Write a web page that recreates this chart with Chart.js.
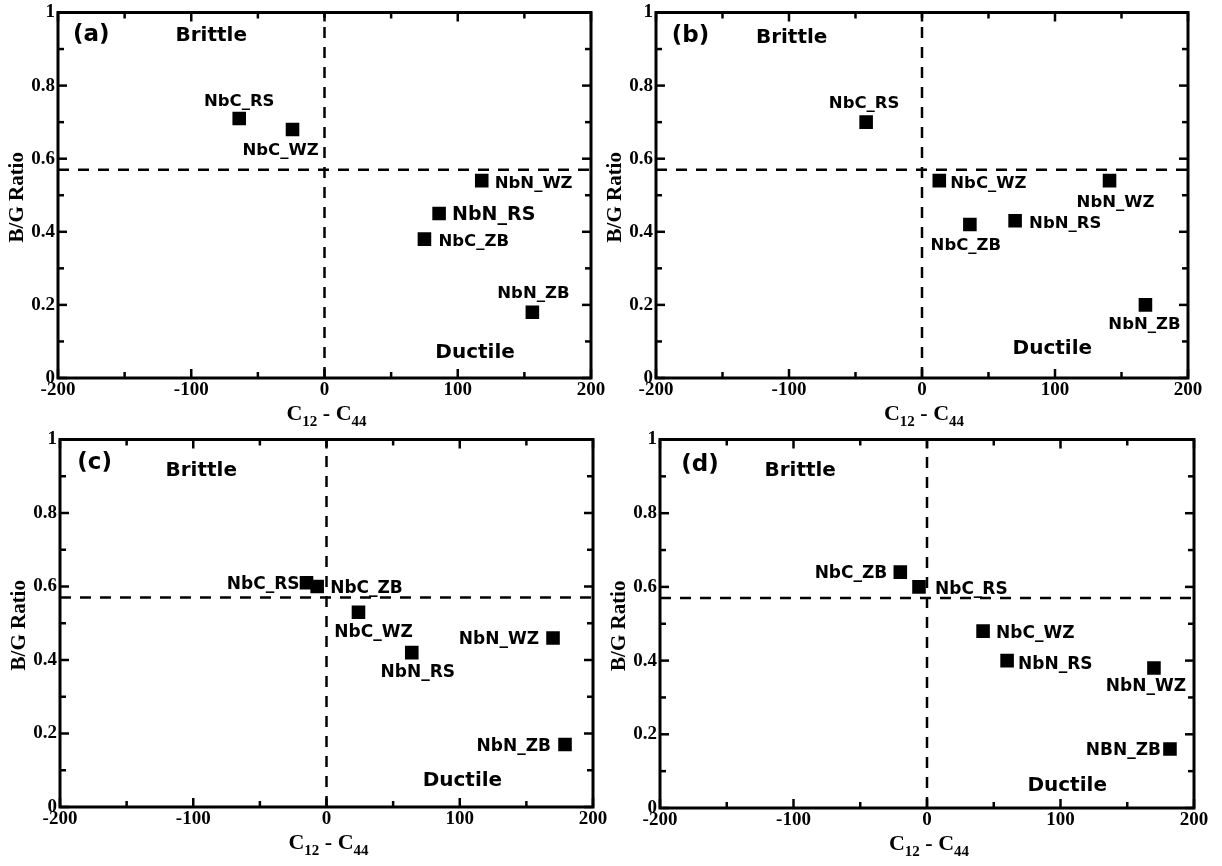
<!DOCTYPE html>
<html><head><meta charset="utf-8">
<script src="https://cdn.jsdelivr.net/npm/chart.js@4.4.0/dist/chart.umd.min.js"></script>
<style>
html,body{margin:0;padding:0;background:#fff;width:1222px;height:866px;overflow:hidden;position:relative}
canvas{position:absolute;display:block}
</style></head><body>
<canvas id="ca"></canvas><canvas id="cb"></canvas><canvas id="cc"></canvas><canvas id="cd"></canvas>
<script>
// ---------------- data ----------------
const xTicks = [-200, -100, 0, 100, 200];
const yTicks = [0, 0.2, 0.4, 0.6, 0.8, 1];
const xMinorStep = 50;
const yMinorStep = 0.1;
const xThreshold = 0;      // C12 - C44 = 0
const yThreshold = 0.57;   // B/G ratio critical value

const panelTags = ['(a)', '(b)', '(c)', '(d)'];

const labelsA = ['NbC_RS', 'NbC_WZ', 'NbN_WZ', 'NbN_RS', 'NbC_ZB', 'NbN_ZB'];
const xA = [-64, -24, 118, 86, 75, 156];
const yA = [0.71, 0.68, 0.54, 0.45, 0.38, 0.18];

const labelsB = ['NbC_RS', 'NbC_WZ', 'NbN_WZ', 'NbC_ZB', 'NbN_RS', 'NbN_ZB'];
const xB = [-42, 13, 141, 36, 70, 168];
const yB = [0.70, 0.54, 0.54, 0.42, 0.43, 0.20];

const labelsC = ['NbC_RS', 'NbC_ZB', 'NbC_WZ', 'NbN_RS', 'NbN_WZ', 'NbN_ZB'];
const xC = [-15, -7, 24, 64, 170, 179];
const yC = [0.61, 0.60, 0.53, 0.42, 0.46, 0.17];

const labelsD = ['NbC_ZB', 'NbC_RS', 'NbC_WZ', 'NbN_RS', 'NbN_WZ', 'NBN_ZB'];
const xD = [-20, -6, 42, 60, 170, 182];
const yD = [0.64, 0.60, 0.48, 0.40, 0.38, 0.16];

// ---------------- layout / style ----------------
const SERIF = '"Liberation Serif", "Times New Roman", serif';
const SANS = '"DejaVu Sans", Verdana, sans-serif';

const layouts = [
  {id: 'ca', left: 0,   top: 0,   w: 611, h: 433, area: {l: 58, t: 11, r: 591, b: 378}},
  {id: 'cb', left: 600, top: 0,   w: 622, h: 433, area: {l: 56, t: 11, r: 588, b: 378}},
  {id: 'cc', left: 0,   top: 427, w: 611, h: 439, area: {l: 60, t: 11, r: 593, b: 380}},
  {id: 'cd', left: 600, top: 427, w: 622, h: 439, area: {l: 60, t: 11, r: 594, b: 381}}
];

// annotation placement (data coords) for tag / Brittle / Ductile
const notes = [
  {tag: [-175, 0.937], brittle: [-85, 0.935], ductile: [113, 0.068]},
  {tag: [-174, 0.935], brittle: [-98, 0.930], ductile: [98, 0.079]},
  {tag: [-174, 0.935], brittle: [-94, 0.914], ductile: [102, 0.070]},
  {tag: [-170, 0.932], brittle: [-95, 0.916], ductile: [105, 0.059]}
];

// point label offsets in px relative to the marker: [dx, dy, align, fontSize]
const labelPlace = [
  [[0, -19, 'center', 16.5], [-12, 20, 'center', 16.5], [13, 1, 'left', 16.5], [13, 0, 'left', 19], [14, 1, 'left', 16.5], [1, -20, 'center', 16.5]],
  [[-2, -20, 'center', 16.5], [11, 1, 'left', 16.5], [6, 20, 'center', 16.5], [-4, 20, 'center', 16.5], [14, 1, 'left', 16.5], [-1, 18, 'center', 16.5]],
  [[-7, 0, 'right', 17], [13, 0, 'left', 17], [15, 19, 'center', 17], [6, 18, 'center', 17], [-14, 0, 'right', 17], [-14, 0, 'right', 17]],
  [[-13, 0, 'right', 17], [16, 1, 'left', 17], [13, 1, 'left', 17], [11, 2, 'left', 17], [-8, 17, 'center', 17], [-9, 0, 'right', 17]]
];

const panelData = [
  {labels: labelsA, xs: xA, ys: yA},
  {labels: labelsB, xs: xB, ys: yB},
  {labels: labelsC, xs: xC, ys: yC},
  {labels: labelsD, xs: xD, ys: yD}
];

function line(ctx, x1, y1, x2, y2) { ctx.beginPath(); ctx.moveTo(x1, y1); ctx.lineTo(x2, y2); ctx.stroke(); }

function makePlugin(pi) {
  return {
    id: 'decor' + pi,
    afterDatasetsDraw(chart) {
      const ctx = chart.ctx, a = chart.chartArea, sx = chart.scales.x, sy = chart.scales.y;
      ctx.save();
      ctx.strokeStyle = '#000'; ctx.fillStyle = '#000';
      // ticks (inward, all four sides)
      ctx.lineWidth = 2.5;
      const xmin = xTicks[0], xmax = xTicks[xTicks.length - 1];
      for (let v = xmin; v <= xmax + 1e-9; v += xMinorStep) {
        const px = sx.getPixelForValue(v);
        const major = xTicks.some(t => Math.abs(t - v) < 1e-9);
        const len = major ? 9 : 6;
        line(ctx, px, a.bottom, px, a.bottom - len);
        line(ctx, px, a.top, px, a.top + len);
      }
      const ymin = yTicks[0], ymax = yTicks[yTicks.length - 1];
      const nY = Math.round((ymax - ymin) / yMinorStep);
      for (let i = 0; i <= nY; i++) {
        const v = ymin + i * yMinorStep;
        const py = sy.getPixelForValue(v);
        const major = yTicks.some(t => Math.abs(t - v) < 1e-9);
        const len = major ? 9 : 6;
        line(ctx, a.left, py, a.left + len, py);
        line(ctx, a.right, py, a.right - len, py);
      }
      // frame
      ctx.lineWidth = 3;
      ctx.strokeRect(a.left, a.top, a.right - a.left, a.bottom - a.top);

      // x title with subscripts
      const big = 'bold 22px ' + SERIF, small = 'bold 15px ' + SERIF;
      const parts = [['C', big, 0], ['12', small, 6], [' - ', big, 0], ['C', big, 0], ['44', small, 6]];
      let total = 0;
      parts.forEach(p => { ctx.font = p[1]; total += ctx.measureText(p[0]).width; });
      let cx = (a.left + a.right) / 2 + 2 - total / 2;
      const by = a.bottom + 42;
      ctx.textBaseline = 'alphabetic'; ctx.textAlign = 'left';
      parts.forEach(p => { ctx.font = p[1]; ctx.fillText(p[0], cx, by + p[2]); cx += ctx.measureText(p[0]).width; });

      // y title
      ctx.save();
      ctx.translate(a.left - 40, (a.top + a.bottom) / 2 + 2);
      ctx.rotate(-Math.PI / 2);
      ctx.font = 'bold 21px ' + SERIF;
      ctx.textAlign = 'center'; ctx.textBaseline = 'middle';
      ctx.fillText('B/G Ratio', 0, 0);
      ctx.restore();

      // annotations
      const n = notes[pi];
      ctx.textAlign = 'center'; ctx.textBaseline = 'middle';
      ctx.font = 'bold 23px ' + SANS;
      ctx.fillText(panelTags[pi], sx.getPixelForValue(n.tag[0]), sy.getPixelForValue(n.tag[1]));
      ctx.font = 'bold 20px ' + SANS;
      ctx.fillText('Brittle', sx.getPixelForValue(n.brittle[0]), sy.getPixelForValue(n.brittle[1]));
      ctx.fillText('Ductile', sx.getPixelForValue(n.ductile[0]), sy.getPixelForValue(n.ductile[1]));

      // point labels
      const d = panelData[pi];
      ctx.textBaseline = 'alphabetic';
      d.labels.forEach((lab, i) => {
        const pl = labelPlace[pi][i];
        const px = sx.getPixelForValue(d.xs[i]), py = sy.getPixelForValue(d.ys[i]);
        ctx.font = 'bold ' + pl[3] + 'px ' + SANS;
        ctx.textAlign = pl[2];
        ctx.fillText(lab, px + pl[0], py + pl[1] + 0.364 * pl[3]);
      });
      ctx.restore();
    }
  };
}

layouts.forEach((L, pi) => {
  const cv = document.getElementById(L.id);
  cv.width = L.w; cv.height = L.h;
  cv.style.left = L.left + 'px'; cv.style.top = L.top + 'px';
  cv.style.width = L.w + 'px'; cv.style.height = L.h + 'px';
  const d = panelData[pi];
  const pts = d.xs.map((x, i) => ({x: x, y: d.ys[i]}));
  const tickFont = {family: SERIF, size: 19, weight: 'bold', lineHeight: 1};
  new Chart(cv, {
    type: 'scatter',
    data: {
      datasets: [
        {data: [{x: xThreshold, y: yTicks[0]}, {x: xThreshold, y: yTicks[yTicks.length - 1]}],
         showLine: true, borderColor: '#000', borderWidth: 2.5, borderDash: [11, 9], pointRadius: 0, fill: false},
        {data: [{x: xTicks[0], y: yThreshold}, {x: xTicks[xTicks.length - 1], y: yThreshold}],
         showLine: true, borderColor: '#000', borderWidth: 2.5, borderDash: [11, 9], pointRadius: 0, fill: false},
        {data: pts, pointStyle: 'rect', pointRadius: 9.6, backgroundColor: '#000', borderColor: '#000', borderWidth: 0, showLine: false}
      ]
    },
    options: {
      responsive: false,
      animation: false,
      devicePixelRatio: 1,
      events: [],
      layout: {padding: {left: 0, top: L.area.t, right: L.w - L.area.r, bottom: 0}},
      plugins: {legend: {display: false}, tooltip: {enabled: false}, title: {display: false}},
      scales: {
        x: {
          type: 'linear', position: 'bottom', min: xTicks[0], max: xTicks[xTicks.length - 1],
          grid: {display: false, drawTicks: false}, border: {display: false},
          afterBuildTicks: s => { s.ticks = xTicks.map(v => ({value: v})); },
          afterFit: s => { s.height = L.h - L.area.b; },
          ticks: {color: '#000', font: tickFont, padding: 3, maxRotation: 0, autoSkip: false, callback: v => String(v)}
        },
        y: {
          type: 'linear', position: 'left', min: yTicks[0], max: yTicks[yTicks.length - 1],
          grid: {display: false, drawTicks: false}, border: {display: false},
          afterBuildTicks: s => { s.ticks = yTicks.map(v => ({value: v})); },
          afterFit: s => { s.width = L.area.l; },
          ticks: {color: '#000', font: tickFont, padding: 3, autoSkip: false, callback: v => String(Math.round(v * 10) / 10)}
        }
      }
    },
    plugins: [makePlugin(pi)]
  });
});
</script>
</body></html>
